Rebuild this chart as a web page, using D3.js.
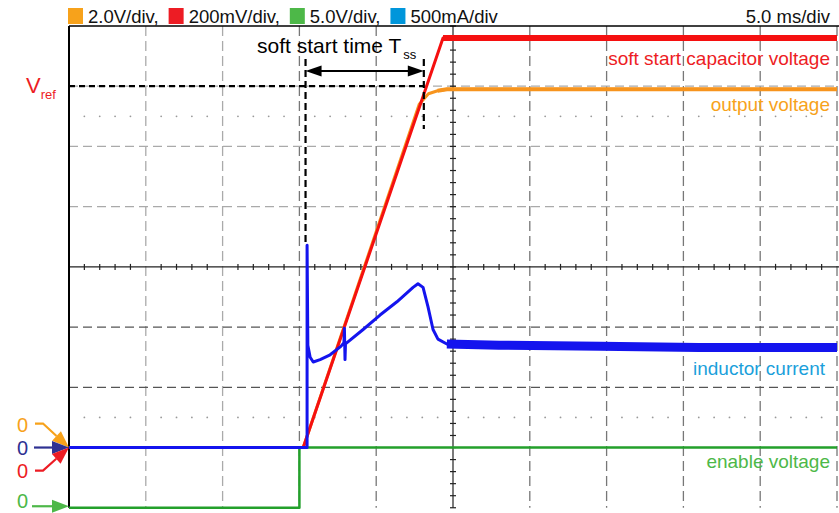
<!DOCTYPE html>
<html><head><meta charset="utf-8">
<script src="https://cdn.jsdelivr.net/npm/d3@7"></script>
<style>body{margin:0;background:#fff} svg{display:block} text{font-family:"Liberation Sans",Arial,Helvetica,sans-serif}</style>
</head><body><svg id="c" width="839" height="513"></svg>
<script>
// ---------- data ----------
const legendLabels = ["2.0V/div,", "200mV/div,", "5.0V/div,", "500mA/div"];
const legendColors = ["#f7a21b", "#ed1c24", "#4db848", "#0096db"];
const timebaseLabel = "5.0 ms/div";
const voltsPerDiv = {orange: 2.0, red: 0.2, green: 5.0, blue: 0.5};
const zeroOffsetDiv = {orange: 0, red: 0, green: -1, blue: 0};

// soft start capacitor voltage (V) vs time (ms)
const ssTime = [0, 15.25, 24.35, 50];
const ssVolt = [0, 0, 1.36, 1.36];
// output voltage (V)
const outTime = [0, 15.25, 22.8, 23.4, 24.0, 24.6, 50];
const outVolt = [0, 0, 11.4, 11.75, 11.85, 11.9, 11.9];
// enable voltage (V)
const enTime = [0, 15.0, 15.0, 50];
const enVolt = [0, 0, 5, 5];
// inductor current (A)
const ilTime = [0, 15.5, 15.5, 15.55, 15.7, 15.9, 16.35, 17.0, 17.7, 17.9, 17.93, 17.97, 18.0, 19.15, 20.25, 21.35, 22.4, 22.72, 23.05, 23.37, 23.7, 24.02, 24.6, 28.0, 34.6, 41.0, 50];
const ilAmp  = [0, 0, 1.68, 0.85, 0.75, 0.71, 0.73, 0.77, 0.84, 0.87, 0.99, 0.73, 0.86, 0.98, 1.10, 1.21, 1.33, 1.36, 1.33, 1.17, 0.98, 0.90, 0.86, 0.85, 0.84, 0.83, 0.83];

const vRef = 1.2;          // V
const tssStart = 15.4;     // ms
const tssEnd = 23.1;       // ms
const traceLabels = ["soft start capacitor voltage", "output voltage", "inductor current", "enable voltage"];

// ---------- scales ----------
const svg = d3.select("#c");
const x = d3.scaleLinear().domain([0, 50]).range([69, 837]);
const yDiv = d3.scaleLinear().domain([-1, 7]).range([507.75, 26]);
const ch = k => v => yDiv(v / voltsPerDiv[k] + zeroOffsetDiv[k]);
const yO = ch("orange"), yR = ch("red"), yG = ch("green"), yB = ch("blue");

// ---------- grid ----------
const g = svg.append("g");
const yTop = yDiv(7), yBot = yDiv(-1), midY = yDiv(3);
d3.range(5, 51, 5).filter(t => t !== 25).forEach(t => {
  g.append("line").attr("x1", x(t)).attr("x2", x(t)).attr("y1", yTop).attr("y2", yBot)
    .attr("stroke", t <= 10 ? "#aaa" : "#777").attr("stroke-width", 1.3).attr("stroke-dasharray", "10,5");
});
[1, 2, 4, 5, 6].forEach(d => {
  g.append("line").attr("x1", x(0)).attr("x2", 839).attr("y1", yDiv(d)).attr("y2", yDiv(d))
    .attr("stroke", d > 3 ? "#aaa" : "#555").attr("stroke-width", 1.3).attr("stroke-dasharray", "9,5");
});
// dotted rows
[5.5, 0.5].forEach(d => {
  d3.range(1, 50).filter(t => t % 5 !== 0).forEach(t => {
    g.append("circle").attr("cx", x(t)).attr("cy", yDiv(d)).attr("r", 0.9).attr("fill", "#999");
  });
});
// center cross with ticks
g.append("line").attr("x1", x(0)).attr("x2", 839).attr("y1", midY).attr("y2", midY).attr("stroke", "#222").attr("stroke-width", 1.2);
g.append("line").attr("x1", x(25)).attr("x2", x(25)).attr("y1", yTop).attr("y2", yBot).attr("stroke", "#222").attr("stroke-width", 1.2);
d3.range(1, 50).filter(t => t % 5 !== 0).forEach(t => {
  g.append("line").attr("x1", x(t)).attr("x2", x(t)).attr("y1", midY - 3).attr("y2", midY + 3).attr("stroke", "#222").attr("stroke-width", 1.2);
});
d3.range(-1, 7.01, 0.2).forEach(d => {
  g.append("line").attr("x1", x(25) - 3).attr("x2", x(25) + 3).attr("y1", yDiv(d)).attr("y2", yDiv(d)).attr("stroke", "#222").attr("stroke-width", 1.2);
});
// frame
g.append("line").attr("x1", x(0)).attr("x2", 839).attr("y1", yTop).attr("y2", yTop).attr("stroke", "#000").attr("stroke-width", 1.6);
g.append("line").attr("x1", x(0)).attr("x2", x(0)).attr("y1", yTop).attr("y2", yBot).attr("stroke", "#000").attr("stroke-width", 2);

// ---------- traces ----------
function drawTrace(ts, vs, yS, color, w, tFrom, wThick) {
  const pts = ts.map((t, i) => [t, vs[i]]);
  const line = d3.line().x(d => x(d[0])).y(d => yS(d[1]));
  svg.append("path").attr("d", line(pts)).attr("fill", "none").attr("stroke", color)
    .attr("stroke-width", w).attr("stroke-linejoin", "round");
  if (tFrom != null) {
    svg.append("path").attr("d", line(pts.filter(p => p[0] >= tFrom))).attr("fill", "none")
      .attr("stroke", color).attr("stroke-width", wThick);
  }
}
drawTrace(enTime, enVolt, yG, "#23a02b", 2.5);
drawTrace(outTime, outVolt, yO, "#f7941d", 3, 24.0, 4);
drawTrace(ssTime, ssVolt, yR, "#f51010", 3, 24.35, 6);
drawTrace(ilTime, ilAmp, yB, "#1414ee", 3, 24.3, 9);

// ---------- annotations ----------
const ann = svg.append("g");
const yVref = yR(vRef);
ann.append("line").attr("x1", x(0)).attr("x2", x(tssEnd)).attr("y1", yVref).attr("y2", yVref)
  .attr("stroke", "#000").attr("stroke-width", 2.2).attr("stroke-dasharray", "6,4");
ann.append("line").attr("x1", x(tssStart)).attr("x2", x(tssStart)).attr("y1", 59).attr("y2", 242)
  .attr("stroke", "#000").attr("stroke-width", 2.2).attr("stroke-dasharray", "7,4");
ann.append("line").attr("x1", x(tssEnd)).attr("x2", x(tssEnd)).attr("y1", 59).attr("y2", 129)
  .attr("stroke", "#000").attr("stroke-width", 2.2).attr("stroke-dasharray", "7,4");

function arrowHead(x1, y1, x2, y2, len, hw) {
  const dx = x2 - x1, dy = y2 - y1, L = Math.hypot(dx, dy), ux = dx / L, uy = dy / L;
  const bx = x2 - ux * len, by = y2 - uy * len;
  return [[x2, y2], [bx - uy * hw, by + ux * hw], [bx + uy * hw, by - ux * hw]];
}
const ya = 71, xa1 = x(tssStart), xa2 = x(tssEnd);
ann.append("line").attr("x1", xa1 + 8).attr("x2", xa2 - 8).attr("y1", ya).attr("y2", ya).attr("stroke", "#000").attr("stroke-width", 2);
ann.append("polygon").attr("points", arrowHead(xa2, ya, xa1, ya, 16, 5.5).join(" ")).attr("fill", "#000");
ann.append("polygon").attr("points", arrowHead(xa1, ya, xa2, ya, 16, 5.5).join(" ")).attr("fill", "#000");

const tt = ann.append("text").attr("x", 257).attr("y", 53).attr("font-size", 21).attr("fill", "#000");
tt.append("tspan").text("soft start time T");
tt.append("tspan").attr("font-size", 13).attr("dx", 2).attr("dy", 6).text("ss");

const vr = ann.append("text").attr("x", 26).attr("y", 93).attr("font-size", 22).attr("fill", "#ed1c24");
vr.append("tspan").text("V");
vr.append("tspan").attr("font-size", 13).attr("dy", 6).text("ref");

// ---------- legend ----------
let lx = 68;
legendLabels.forEach((lab, i) => {
  svg.append("rect").attr("x", lx).attr("y", 8).attr("width", 15).attr("height", 16).attr("fill", legendColors[i]);
  const t = svg.append("text").attr("x", lx + 20).attr("y", 23).attr("font-size", 18.5).attr("fill", "#111").text(lab);
  lx = lx + 20 + t.node().getComputedTextLength() + 10;
});
svg.append("text").attr("x", 830).attr("y", 23).attr("text-anchor", "end").attr("font-size", 18.5).attr("fill", "#111").text(timebaseLabel);

// ---------- trace labels ----------
const labelCfg = [
  {c: "#ed1c24", x: 830, y: 65},
  {c: "#f7a21b", x: 830, y: 111},
  {c: "#1a9fdb", x: 825, y: 375},
  {c: "#4db848", x: 830, y: 468}
];
traceLabels.forEach((s, i) => {
  svg.append("text").attr("x", labelCfg[i].x).attr("y", labelCfg[i].y).attr("text-anchor", "end")
    .attr("font-size", 19).attr("fill", labelCfg[i].c).text(s);
});

// ---------- zero markers ----------
const zm = svg.append("g");
const x0 = x(0);
const markers = [
  {c: "#f7a21b", ty: yO(0) - 23, pts: [[35, yO(0) - 24], [43, yO(0) - 24], [x0, yO(0)]]},
  {c: "#2e3192", ty: yB(0), pts: [[34, yB(0)], [x0, yB(0)]]},
  {c: "#ed1c24", ty: yR(0) + 23, pts: [[35, yR(0) + 23], [43, yR(0) + 23], [x0, yR(0)]]},
  {c: "#4db848", ty: yG(0) - 6.5, pts: [[32, yG(0) - 1.5], [x0, yG(0) - 1.5]]}
];
markers.forEach(m => {
  zm.append("text").attr("x", 17).attr("y", m.ty + 7).attr("font-size", 20).attr("fill", m.c).text("0");
  const n = m.pts.length;
  const a = m.pts[n - 2], b = m.pts[n - 1];
  const head = arrowHead(a[0], a[1], b[0], b[1], 17, 6.5);
  const base = [(head[1][0] + head[2][0]) / 2, (head[1][1] + head[2][1]) / 2];
  const linePts = m.pts.slice(0, n - 1).concat([base]);
  zm.append("path").attr("d", d3.line()(linePts)).attr("fill", "none").attr("stroke", m.c).attr("stroke-width", 2.2);
  zm.append("polygon").attr("points", head.join(" ")).attr("fill", m.c);
});
</script></body></html>
